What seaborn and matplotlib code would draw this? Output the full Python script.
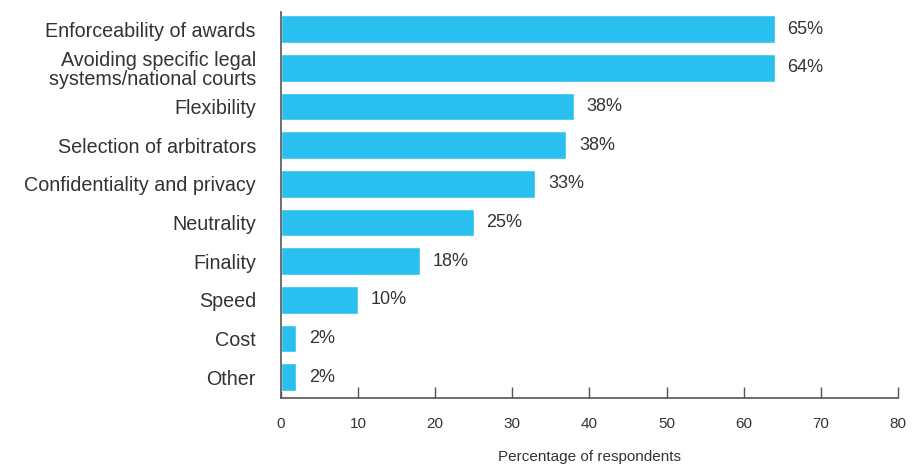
import matplotlib
matplotlib.use("Agg")
import matplotlib.pyplot as plt
import seaborn as sns
import pandas as pd

categories = ["Enforceability of awards",
              "Avoiding specific legal\nsystems/national courts",
              "Flexibility", "Selection of arbitrators",
              "Confidentiality and privacy", "Neutrality", "Finality",
              "Speed", "Cost", "Other"]
bar_values = [64, 64, 38, 37, 33, 25, 18, 10, 2, 2]
value_labels = ["65%", "64%", "38%", "38%", "33%", "25%", "18%", "10%", "2%", "2%"]
x_ticks = [0, 10, 20, 30, 40, 50, 60, 70, 80]

sns.set_theme(style="white")
plt.rcParams["font.family"] = ["Liberation Sans", "DejaVu Sans"]

df = pd.DataFrame({"category": categories, "value": bar_values})

fig = plt.figure(figsize=(9.2, 4.65), dpi=100)
ax = fig.add_axes([0.3054, 0.144, 0.976 - 0.3054, 0.974 - 0.144])
sns.barplot(data=df, y="category", x="value", color="#29C0F0", saturation=1,
            width=0.72, ax=ax, orient="h")

text_color = "#333333"
for i, (v, lab) in enumerate(zip(bar_values, value_labels)):
    ax.text(v + 1.65, i, lab, va="center", ha="left", fontsize=13, color=text_color)

ax.set_xlim(0, 80)
ax.set_ylim(9.54, -0.44)
ax.set_xticks(x_ticks)
ax.set_xticklabels([str(t) for t in x_ticks], fontsize=11, color=text_color)
ax.tick_params(axis="x", direction="in", length=8, width=1, color="#555555", pad=14, bottom=True)
ax.tick_params(axis="y", length=0, pad=18, labelsize=14.2, labelcolor=text_color)
for lbl in ax.get_yticklabels():
    lbl.set_linespacing(1.0)
ax.set_ylabel("")
ax.set_xlabel("Percentage of respondents", fontsize=11, color=text_color, labelpad=13)
for s in ["top", "right"]:
    ax.spines[s].set_visible(False)
for s in ["left", "bottom"]:
    ax.spines[s].set_color("#555555")
    ax.spines[s].set_linewidth(1.2)

fig.savefig("out.png", dpi=100)
